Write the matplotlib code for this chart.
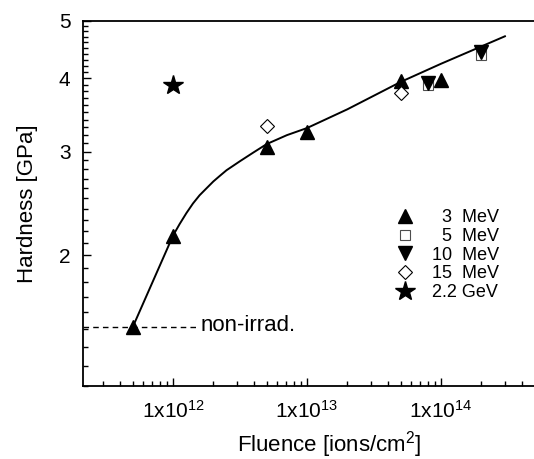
import numpy as np
import matplotlib
matplotlib.use('Agg')
import matplotlib.pyplot as plt
from matplotlib.ticker import FixedLocator, NullFormatter

plt.rcParams['font.family'] = ['Liberation Sans', 'DejaVu Sans']
plt.rcParams['mathtext.fontset'] = 'custom'
plt.rcParams['mathtext.rm'] = 'Liberation Sans'
plt.rcParams['mathtext.default'] = 'regular'

# data
mev3_x = [5e11, 1e12, 5e12, 1e13, 5e13, 1e14]
mev3_y = [1.51, 2.16, 3.06, 3.24, 3.96, 3.97]
mev5_x = [8e13, 2e14]
mev5_y = [3.89, 4.38]
mev10_x = [8e13, 2e14]
mev10_y = [3.92, 4.43]
mev15_x = [5e12, 5e13]
mev15_y = [3.31, 3.77]
gev_x = [1e12]
gev_y = [3.89]

# guide curve
fit_x = [5e11, 1e12, 1.12e12, 1.26e12, 1.41e12, 1.58e12, 1.78e12, 2e12, 2.24e12,
         2.51e12, 2.82e12, 3.16e12, 3.98e12, 5e12, 7.08e12, 1e13, 2e13, 5e13, 1e14, 3e14]
fit_y = [1.51, 2.16, 2.26, 2.36, 2.45, 2.53, 2.60, 2.67, 2.73,
         2.79, 2.84, 2.89, 2.99, 3.09, 3.20, 3.29, 3.54, 3.94, 4.23, 4.71]

# non-irradiated level
ref_x = [2.13e11, 1.53e12]
ref_y = [1.51, 1.51]

xticks = [1e12, 1e13, 1e14]
xticklabels = ['1x10$^{12}$', '1x10$^{13}$', '1x10$^{14}$']
yticks = [2, 3, 4, 5]
yticklabels = ['2', '3', '4', '5']

fig = plt.figure(figsize=(5.34, 4.59), dpi=100)
ax = fig.add_axes([83/534, 73/459, 492/534, 365/459])

ax.plot(fit_x, fit_y, color='k', lw=1.4, zorder=2)
ax.plot(ref_x, ref_y, color='k', lw=1.0, ls=(0, (4, 3)), zorder=2)

ax.plot(mev3_x, mev3_y, ls='none', marker='^', ms=9.5, mfc='k', mec='k', label='  3  MeV', zorder=3)
ax.plot(mev5_x, mev5_y, ls='none', marker='s', ms=6.5, mfc='white', mec='0.3', mew=0.8, label='  5  MeV', zorder=3)
ax.plot(mev10_x, mev10_y, ls='none', marker='v', ms=9.5, mfc='k', mec='k', label='10  MeV', zorder=4)
ax.plot(mev15_x, mev15_y, ls='none', marker='D', ms=7, mfc='white', mec='k', mew=0.8, label='15  MeV', zorder=3)
ax.plot(gev_x, gev_y, ls='none', marker='*', ms=15, mfc='k', mec='k', label='2.2 GeV', zorder=3)

ax.text(1.6e12, 1.488, 'non-irrad.', fontsize=16, va='baseline', ha='left')

ax.set_xscale('log')
ax.set_yscale('log')
ax.set_xlim(2.13e11, 1e15)
ax.set_ylim(1.2, 5)

ax.xaxis.set_major_locator(FixedLocator(xticks))
ax.set_xticklabels(xticklabels)
minx = [m * 10.0**e for e in range(11, 15) for m in range(2, 10)]
ax.xaxis.set_minor_locator(FixedLocator(minx))
ax.xaxis.set_minor_formatter(NullFormatter())

ax.yaxis.set_major_locator(FixedLocator(yticks))
ax.set_yticklabels(yticklabels)
miny = [v / 10 for v in range(12, 50) if v % 10 != 0]
ax.yaxis.set_minor_locator(FixedLocator(miny))
ax.yaxis.set_minor_formatter(NullFormatter())

ax.tick_params(which='both', direction='in', top=False, right=False, width=1.0)
ax.tick_params(which='major', length=6, labelsize=15)
ax.tick_params(axis='x', which='major', pad=10)
ax.tick_params(axis='y', which='major', pad=9)
ax.tick_params(which='minor', length=3.5)
for s in ax.spines.values():
    s.set_linewidth(1.3)

ax.set_xlabel('Fluence [ions/cm$^2$]', fontsize=16, labelpad=5)
ax.set_ylabel('Hardness [GPa]', fontsize=16, labelpad=15)

ax.legend(loc='upper left', bbox_to_anchor=(385/534, 1 - 200/459), bbox_transform=fig.transFigure,
          frameon=False, fontsize=13, handlelength=1.2, handletextpad=0.9,
          labelspacing=0.1, borderpad=0, numpoints=1)

fig.savefig('out.png', dpi=100)
